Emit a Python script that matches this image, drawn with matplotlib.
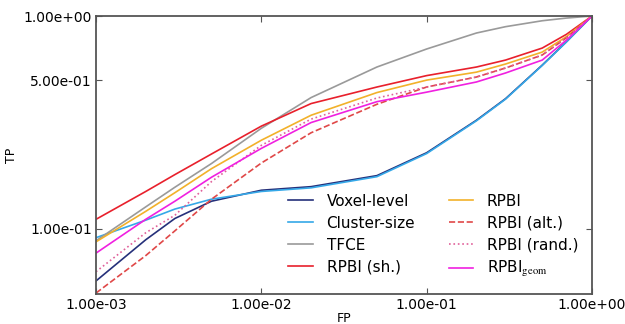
import matplotlib
matplotlib.use("Agg")
import matplotlib.pyplot as plt
from matplotlib.ticker import FixedLocator, FormatStrFormatter

plt.rcParams['mathtext.fontset'] = 'stix'

# false positive rate (x) shared by all curves
fp = [1e-3, 2e-3, 3e-3, 5e-3, 1e-2, 2e-2, 5e-2, 0.1, 0.2, 0.3, 0.5, 0.7, 1.0]

# true positive rate for each method
tp_voxel = [0.057, 0.089, 0.112, 0.135, 0.152, 0.158, 0.178, 0.228, 0.324, 0.409, 0.588, 0.757, 1.0]
tp_cluster = [0.091, 0.110, 0.124, 0.138, 0.150, 0.156, 0.176, 0.226, 0.322, 0.407, 0.586, 0.755, 1.0]
tp_tfce = [0.088, 0.127, 0.157, 0.203, 0.297, 0.414, 0.576, 0.700, 0.832, 0.891, 0.950, 0.978, 1.0]
tp_rpbi_sh = [0.111, 0.150, 0.180, 0.225, 0.304, 0.388, 0.464, 0.525, 0.576, 0.621, 0.707, 0.82, 1.0]
tp_rpbi = [0.087, 0.121, 0.148, 0.192, 0.261, 0.342, 0.437, 0.500, 0.545, 0.595, 0.677, 0.80, 1.0]
tp_rpbi_alt = [0.050, 0.075, 0.098, 0.138, 0.204, 0.283, 0.385, 0.464, 0.517, 0.570, 0.656, 0.79, 1.0]
tp_rpbi_rand = [0.063, 0.096, 0.116, 0.167, 0.247, 0.328, 0.412, 0.464, 0.517, 0.570, 0.656, 0.79, 1.0]
tp_rpbi_geom = [0.077, 0.111, 0.135, 0.175, 0.239, 0.316, 0.396, 0.439, 0.490, 0.540, 0.621, 0.77, 1.0]

x_ticks = [1e-3, 1e-2, 1e-1, 1e0]
y_ticks = [1e-1, 5e-1, 1e0]

fig = plt.figure(figsize=(6.25, 3.24), dpi=100)
ax = fig.add_axes([0.1536, 0.0926, 0.7936, 0.858])

# left legend column first, then right column
series = [
    (tp_voxel, 'Voxel-level', '#25307a', '-'),
    (tp_cluster, 'Cluster-size', '#35a8e8', '-'),
    (tp_tfce, 'TFCE', '#9a9a9a', '-'),
    (tp_rpbi_sh, 'RPBI (sh.)', '#e8202c', '-'),
    (tp_rpbi, 'RPBI', '#f2b12a', '-'),
    (tp_rpbi_alt, 'RPBI (alt.)', '#e04848', '--'),
    (tp_rpbi_rand, 'RPBI (rand.)', '#e0609a', ':'),
    (tp_rpbi_geom, r'RPBI$_{\rm geom}$', '#f020e0', '-'),
]
for tp, label, color, ls in series:
    ax.plot(fp, tp, color=color, linestyle=ls, linewidth=1.2, label=label)

ax.set_xscale('log')
ax.set_yscale('log')
ax.set_xlim(1e-3, 1.0)
ax.set_ylim(0.0495, 1.0)

ax.xaxis.set_major_locator(FixedLocator(x_ticks))
ax.yaxis.set_major_locator(FixedLocator(y_ticks))
ax.xaxis.set_major_formatter(FormatStrFormatter('%.2e'))
ax.yaxis.set_major_formatter(FormatStrFormatter('%.2e'))
ax.minorticks_off()
ax.tick_params(direction='in', top=True, right=True, length=4,
               labelsize=10, color='#555555', pad=3)
for sp in ax.spines.values():
    sp.set_color('#555555')
    sp.set_linewidth(1.3)

ax.set_xlabel('FP', fontsize=9, labelpad=0)
ax.set_ylabel('TP', fontsize=9, labelpad=4)

ax.legend(ncol=2, frameon=False, fontsize=11, loc='upper left',
          bbox_to_anchor=(0.36, 0.41), handlelength=1.6, handletextpad=0.9,
          columnspacing=2.2, labelspacing=0.45)

fig.savefig('out.png', dpi=100)
